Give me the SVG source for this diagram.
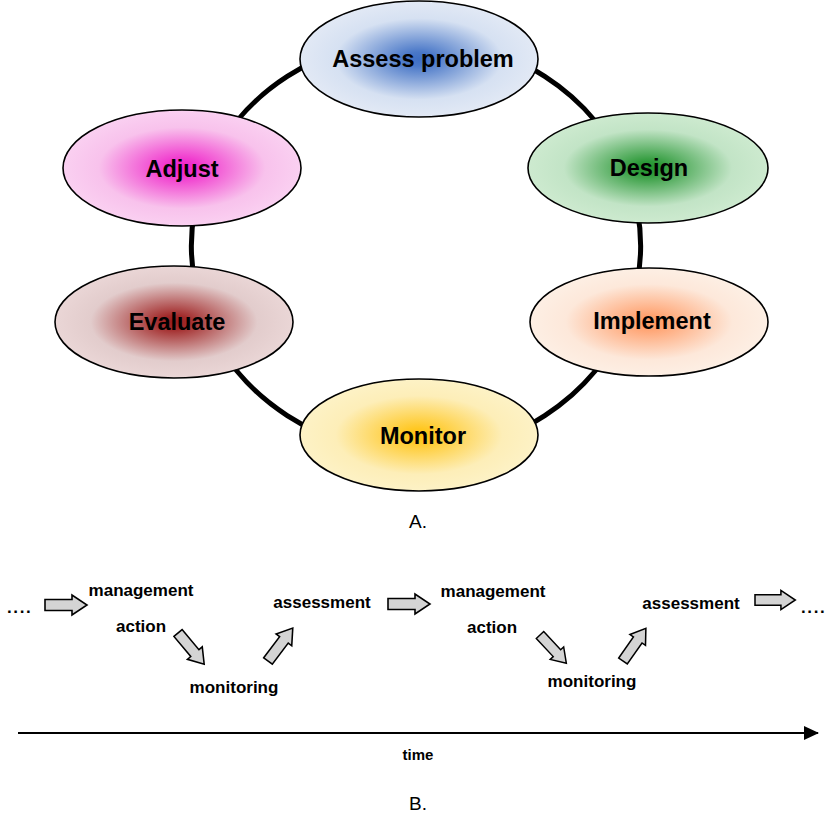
<svg xmlns="http://www.w3.org/2000/svg" xmlns:xlink="http://www.w3.org/1999/xlink" width="829" height="814" viewBox="0 0 829 814">
<style>
.node{stroke:#000;stroke-width:1.6}
.lbl{font-family:"Liberation Sans",Arial,sans-serif;font-weight:bold;font-size:23.5px;text-anchor:middle;fill:#000}
.cyc{fill:none;stroke:#000;stroke-width:5}
.sm{font-family:"Liberation Sans",Arial,sans-serif;font-weight:bold;font-size:17px;text-anchor:middle;fill:#000}
.cap{font-family:"Liberation Sans",Arial,sans-serif;font-size:19px;text-anchor:middle;fill:#000}
.dots{font-family:"Liberation Sans",Arial,sans-serif;font-weight:bold;font-size:17px;fill:#000;letter-spacing:1.6px}
.blk{fill:#d4d4d4;stroke:#000;stroke-width:1.6;stroke-linejoin:miter}
</style>
<defs>
<radialGradient id="gBlue"><stop offset="0" stop-color="#3f6fc4"/><stop offset="0.12" stop-color="#4a78c8"/><stop offset="0.7" stop-color="#d6e1f2"/><stop offset="1" stop-color="#e2e9f5"/></radialGradient>
<radialGradient id="gPink"><stop offset="0" stop-color="#f01cc8"/><stop offset="0.12" stop-color="#f030cc"/><stop offset="0.7" stop-color="#f8c2ec"/><stop offset="1" stop-color="#fad0f1"/></radialGradient>
<radialGradient id="gGreen"><stop offset="0" stop-color="#22922e"/><stop offset="0.12" stop-color="#2e9a3a"/><stop offset="0.7" stop-color="#c2e4c6"/><stop offset="1" stop-color="#cdeacf"/></radialGradient>
<radialGradient id="gRed"><stop offset="0" stop-color="#9a1c1c"/><stop offset="0.12" stop-color="#a22a2a"/><stop offset="0.7" stop-color="#e2cccc"/><stop offset="1" stop-color="#ead6d6"/></radialGradient>
<radialGradient id="gOrange"><stop offset="0" stop-color="#ff9a62"/><stop offset="0.12" stop-color="#ffa270"/><stop offset="0.7" stop-color="#fde8da"/><stop offset="1" stop-color="#fdefe4"/></radialGradient>
<radialGradient id="gYellow"><stop offset="0" stop-color="#ffc40e"/><stop offset="0.12" stop-color="#ffc824"/><stop offset="0.7" stop-color="#fdeeb8"/><stop offset="1" stop-color="#fdf2c6"/></radialGradient>
<path id="barrow" class="blk" d="M0,-5.5 L27,-5.5 L27,-10 L42,0 L27,10 L27,5.5 L0,5.5 Z"/>
<marker id="tri" markerWidth="16" markerHeight="16" refX="14" refY="7" orient="auto" markerUnits="userSpaceOnUse"><path d="M0,0 L15,7 L0,14 Z" fill="#000"/></marker>
</defs>
<g id="connectors">
<path class="cyc" d="M416,39 A225,207 0 0 1 627,175"/>
<path class="cyc" d="M627,175 A225,207 0 0 1 627,317"/>
<path class="cyc" d="M627,317 A225,207 0 0 1 416,453"/>
<path class="cyc" d="M416,453 A225,207 0 0 1 205,317"/>
<path class="cyc" d="M205,317 A225,207 0 0 1 205,175"/>
<path class="cyc" d="M205,175 A225,207 0 0 1 416,39"/>
</g>
<g id="assess"><ellipse class="node" cx="419" cy="59" rx="119" ry="58" fill="url(#gBlue)"/><text class="lbl" x="423" y="67">Assess problem</text></g>
<g id="design"><ellipse class="node" cx="648" cy="168" rx="120" ry="55" fill="url(#gGreen)"/><text class="lbl" x="649" y="176">Design</text></g>
<g id="implement"><ellipse class="node" cx="649" cy="322" rx="119" ry="54" fill="url(#gOrange)"/><text class="lbl" x="652" y="329">Implement</text></g>
<g id="monitor"><ellipse class="node" cx="419" cy="435" rx="119" ry="56" fill="url(#gYellow)"/><text class="lbl" x="423" y="444">Monitor</text></g>
<g id="evaluate"><ellipse class="node" cx="174" cy="322" rx="119" ry="56" fill="url(#gRed)"/><text class="lbl" x="177" y="330">Evaluate</text></g>
<g id="adjust"><ellipse class="node" cx="182" cy="168" rx="119" ry="58" fill="url(#gPink)"/><text class="lbl" x="182" y="177">Adjust</text></g>
<text class="cap" x="418" y="528">A.</text>
<g id="partB">
<text class="dots" x="7" y="613">....</text>
<use xlink:href="#barrow" transform="translate(45,605)"/>
<text class="sm" x="141" y="596">management</text>
<text class="sm" x="141" y="632">action</text>
<use xlink:href="#barrow" transform="translate(178,633) rotate(50) scale(0.97)"/>
<text class="sm" x="234" y="693">monitoring</text>
<use xlink:href="#barrow" transform="translate(268,661) rotate(-53) scale(0.98)"/>
<text class="sm" x="322" y="608">assessment</text>
<use xlink:href="#barrow" transform="translate(388,604)"/>
<text class="sm" x="493" y="597">management</text>
<text class="sm" x="492" y="633">action</text>
<use xlink:href="#barrow" transform="translate(540,635) rotate(47) scale(0.92)"/>
<text class="sm" x="592" y="687">monitoring</text>
<use xlink:href="#barrow" transform="translate(623,661) rotate(-55) scale(0.95)"/>
<text class="sm" x="691" y="609">assessment</text>
<use xlink:href="#barrow" transform="translate(755,600) scale(0.96)"/>
<text class="dots" x="801" y="613">....</text>
<line x1="18" y1="733" x2="818" y2="733" stroke="#000" stroke-width="2" marker-end="url(#tri)"/>
<text class="sm" x="418" y="760" style="font-size:15px">time</text>
<text class="cap" x="418" y="810">B.</text>
</g>
</svg>
